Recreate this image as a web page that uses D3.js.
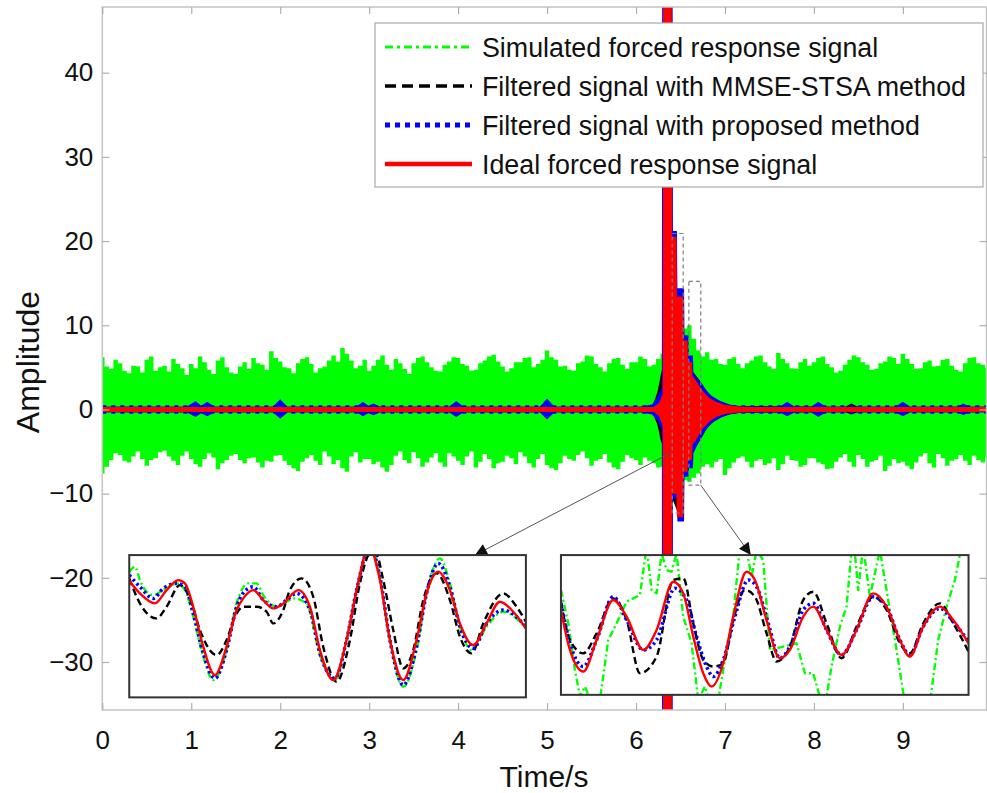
<!DOCTYPE html>
<html>
<head>
<meta charset="utf-8">
<script src="https://cdn.jsdelivr.net/npm/d3@7"></script>
<style>
  html, body { margin: 0; padding: 0; background: #fff; }
  svg { display: block; }
  text { font-family: "Liberation Sans", Arial, sans-serif; fill: #111; }
</style>
</head>
<body>
<svg id="chart" width="987" height="793"></svg>
<script>
// ---------------- data ----------------
const xTickValues = [0, 1, 2, 3, 4, 5, 6, 7, 8, 9];
const yTickValues = [-30, -20, -10, 0, 10, 20, 30, 40];

const seriesNames = [
  "Simulated forced response signal",
  "Filtered signal with MMSE-STSA method",
  "Filtered signal with proposed method",
  "Ideal forced response signal"
];

// noisy simulated signal: upper / lower envelope, one value every 0.05 s
const sampleStep = 0.05;
const greenUpper = [
  6.2, 5.1, 4.8, 5.9, 5.5, 4.6, 4.3, 5.2, 5.1, 4.4, 5.9, 6.3, 4.6, 5.0, 5.2, 4.5, 6.0, 5.4, 4.9, 4.1,
  5.4, 4.9, 6.3, 5.6, 4.7, 4.2, 5.8, 6.2, 5.0, 4.4, 4.2, 5.1, 5.6, 4.8, 6.1, 5.5, 5.3, 4.7, 6.9, 6.1,
  5.7, 5.0, 4.9, 4.3, 5.5, 6.0, 6.2, 5.4, 4.4, 4.9, 5.1, 5.8, 6.4, 5.7, 7.3, 6.6, 5.8, 4.9, 5.2, 5.9,
  4.6, 5.2, 5.9, 6.4, 5.3, 4.7, 6.0, 5.5, 4.8, 4.2, 5.5, 6.1, 6.3, 5.6, 5.0, 4.6, 4.5, 5.3, 5.7, 6.2,
  6.1, 5.4, 5.2, 4.6, 4.7, 5.5, 5.8, 6.3, 6.5, 5.7, 5.1, 4.5, 4.9, 5.6, 5.6, 6.1, 6.2, 5.0, 5.4, 5.9,
  7.0, 6.2, 5.9, 5.1, 5.2, 4.7, 4.6, 5.5, 5.7, 6.4, 6.3, 5.4, 5.0, 4.5, 5.5, 6.0, 6.1, 5.3, 4.8, 5.6,
  5.6, 6.3, 6.0, 5.1, 5.3, 6.0, 6.6, 7.0, 7.5, 7.8, 9.2, 9.6, 10.0, 8.4, 7.0, 6.3, 6.8, 5.9, 6.0, 5.4,
  5.3, 6.0, 6.2, 5.4, 4.9, 5.5, 5.8, 6.3, 6.4, 5.6, 5.1, 4.8, 6.7, 6.0, 5.5, 4.9, 4.8, 5.6, 6.0, 5.2,
  5.6, 6.1, 6.3, 5.4, 5.0, 4.4, 4.6, 5.3, 5.9, 6.4, 6.2, 5.6, 5.3, 4.7, 4.8, 5.5, 5.7, 6.3, 6.1, 5.4,
  6.6, 6.0, 5.4, 4.8, 4.9, 5.6, 5.8, 5.1, 5.2, 5.9, 6.0, 5.2, 4.7, 4.5, 5.5, 6.1, 6.2, 5.5, 5.3, 4.9
];
const greenLower = [
  -7.6, -6.8, -6.0, -5.2, -5.4, -6.1, -6.3, -5.6, -5.0, -5.9, -6.7, -6.0, -5.8, -5.1, -4.9, -5.6, -6.1, -6.6, -5.5, -5.0,
  -5.9, -6.5, -6.8, -5.9, -5.2, -5.7, -7.1, -6.4, -6.0, -5.5, -5.3, -6.0, -6.4, -5.8, -5.7, -6.3, -6.9, -6.1, -6.2, -5.5,
  -5.4, -6.1, -6.6, -7.0, -7.3, -6.2, -5.8, -5.4, -6.1, -6.6, -5.0, -5.6, -6.5, -6.0, -7.0, -7.4, -5.6, -5.1, -6.3, -5.9,
  -5.9, -6.5, -6.2, -6.9, -7.4, -6.6, -5.5, -5.0, -6.0, -6.4, -5.1, -5.8, -6.8, -6.3, -5.7, -5.2, -6.3, -6.8, -5.2, -5.6,
  -6.1, -6.6, -5.6, -5.0, -6.9, -6.2, -5.3, -5.9, -7.0, -6.4, -6.2, -5.5, -5.8, -6.5, -5.1, -5.6, -6.4, -6.9, -5.9, -5.3,
  -6.6, -7.0, -7.2, -6.4, -5.5, -5.9, -6.1, -5.4, -5.0, -5.8, -6.7, -6.1, -5.9, -5.3, -6.3, -6.9, -7.1, -6.2, -5.4, -5.8,
  -6.0, -6.6, -5.7, -6.1, -6.4, -6.9, -6.8, -7.3, -7.5, -7.8, -8.0, -8.4, -8.6, -8.1, -7.6, -6.8, -6.5, -6.9, -6.2, -5.9,
  -7.8, -7.0, -6.3, -5.8, -5.6, -6.2, -6.9, -6.1, -5.9, -6.6, -6.4, -5.8, -7.2, -6.5, -5.5, -6.0, -6.1, -6.8, -6.6, -5.8,
  -5.8, -6.3, -6.5, -7.1, -7.0, -6.2, -5.7, -5.3, -6.2, -6.8, -5.4, -5.9, -6.8, -6.2, -6.0, -5.5, -7.3, -6.7, -5.9, -6.4,
  -6.2, -6.7, -7.1, -6.3, -5.6, -5.2, -6.4, -6.9, -5.3, -5.8, -6.7, -6.1, -5.9, -5.4, -6.1, -6.6, -5.5, -6.0, -6.3, -5.7
];

// filtered / ideal signals: [time, upper, lower] envelope breakpoints
const blackEnvelope = [
  [0, 0.3, -0.3], [6.18, 0.3, -0.3], [6.24, 2.0, -1.8], [6.28, 4.2, -3.8],
  [6.30, 5.0, -4.2], [6.305, 60, -60], [6.40, 60, -60],
  [6.405, 19.5, -10.5], [6.46, 12.8, -12.0], [6.53, 12.8, -12.0],
  [6.535, 7.6, -7.8], [6.60, 5.0, -5.8], [6.66, 4.2, -4.6], [6.72, 3.4, -3.7],
  [6.80, 2.1, -2.2], [6.88, 1.3, -1.4], [6.98, 0.75, -0.8], [7.10, 0.4, -0.4],
  [8.35, 0.3, -0.3], [8.42, 0.7, -0.6], [8.50, 0.3, -0.3], [9.94, 0.3, -0.3]
];
const blueEnvelope = [
  [0.00, 0.35, -0.35],
  [0.95, 0.35, -0.35], [1.05, 1.0, -0.9], [1.11, 0.45, -0.45], [1.18, 0.9, -0.8], [1.26, 0.35, -0.35],
  [1.92, 0.35, -0.35], [2.00, 1.2, -1.1], [2.08, 0.35, -0.35],
  [2.86, 0.35, -0.35], [2.93, 0.9, -0.8], [2.99, 0.45, -0.45], [3.05, 0.7, -0.7], [3.12, 0.35, -0.35],
  [3.90, 0.35, -0.35], [3.98, 1.0, -0.9], [4.06, 0.35, -0.35],
  [4.92, 0.35, -0.35], [5.00, 1.3, -1.2], [5.08, 0.35, -0.35],
  [6.05, 0.35, -0.35], [6.18, 0.6, -0.6], [6.24, 1.5, -1.3], [6.29, 2.6, -2.4],
  [6.295, 60, -60], [6.41, 60, -60], [6.415, 21.2, -10.6], [6.46, 21.2, -10.6],
  [6.465, 14.4, -13.3], [6.54, 14.4, -13.3], [6.545, 8.8, -8.0], [6.59, 8.8, -8.0],
  [6.595, 6.4, -7.0], [6.64, 6.4, -7.0], [6.645, 4.3, -5.2], [6.72, 3.3, -3.6],
  [6.78, 2.4, -2.5], [6.85, 1.6, -1.6], [6.95, 1.0, -1.0], [7.05, 0.6, -0.6], [7.20, 0.35, -0.35],
  [7.62, 0.35, -0.35], [7.70, 0.9, -0.8], [7.78, 0.35, -0.35],
  [7.97, 0.35, -0.35], [8.05, 0.9, -0.9], [8.13, 0.35, -0.35],
  [8.92, 0.35, -0.35], [9.00, 0.9, -0.8], [9.08, 0.35, -0.35],
  [9.62, 0.35, -0.35], [9.68, 0.7, -0.7], [9.74, 0.35, -0.35],
  [9.94, 0.35, -0.35]
];
const redEnvelope = [
  [0, 0.3, -0.3], [6.20, 0.3, -0.3], [6.26, 0.8, -0.8], [6.30, 1.8, -2.0],
  [6.305, 60, -60], [6.40, 60, -60], [6.405, 20.5, -10.0], [6.455, 20.5, -10.0],
  [6.46, 13.4, -12.8], [6.53, 13.4, -12.8], [6.535, 8.2, -7.4], [6.58, 8.2, -7.4],
  [6.585, 5.6, -6.0], [6.63, 5.6, -6.0], [6.635, 4.0, -4.2], [6.70, 3.0, -3.2],
  [6.75, 2.2, -2.3], [6.82, 1.4, -1.5], [6.90, 0.9, -0.9], [7.00, 0.55, -0.55],
  [7.15, 0.35, -0.35], [7.30, 0.3, -0.3], [9.94, 0.3, -0.3]
];

// zoomed windows: [t0, t1, amplitude low, amplitude high]
const zoomWindows = [
  [6.407, 6.530, -12.3, 20.9],
  [6.594, 6.728, -9.0, 15.2]
];

// inset 1 traces: [sample, amplitude]
const inset1Green = [
  [0,16.3],[1.7,17.8],[3.2,13.8],[5.2,10.3],[7.2,9.3],[10.2,10.8],[14.2,12.8],[16.7,10.8],
  [19.2,2.8],[22.2,-9.2],[25.2,-16.2],[29.2,-7.2],[32.2,6.8],[35.7,12.8],[38.2,12.8],[40.2,9.3],
  [44.2,5.8],[47.2,7.3],[49.2,8.3],[53.2,6.8],[57.2,-8.7],[61.7,-16.2],[65.2,-4.2],[68.2,10.8],
  [72.2,23.8],[75.2,14.8],[78.2,-4.2],[82.2,-18.2],[86.2,-7.2],[89.2,9.8],[93.2,20.3],[96.2,12.8],
  [99.2,-0.2],[102.7,-7.2],[107.2,-0.2],[112.2,4.3],[119,-0.7]
];
const inset1Black = [
  [0,14.3],[3.2,6.8],[8.2,2.3],[11.2,5.8],[15.2,12.3],[18.2,8.3],[21.2,-1.2],[26.2,-8.7],
  [29.2,-4.2],[31.7,2.8],[34.2,5.8],[38.2,5.8],[41.2,4.3],[43.2,0.8],[46.2,4.8],[48.2,10.8],
  [51.7,14.3],[55.2,8.8],[58.2,-6.2],[62.2,-16.7],[66.2,-4.2],[69.2,12.8],[72.4,21.8],[74.2,21.3],
  [76.2,13.8],[79.2,-1.2],[82.2,-12.7],[85.2,-7.2],[88.2,7.8],[92.2,15.8],[96.2,7.8],[99.2,-3.2],
  [102.7,-8.2],[106.2,0.8],[112.2,9.8],[116.2,5.8],[119,1.3]
];
const inset1Blue = [
  [0,15.3],[3.2,11.8],[7.2,8.3],[10.2,11.3],[14.2,12.8],[16.7,11.8],[19.2,3.8],[22.2,-8.2],
  [25.7,-15.7],[29.2,-7.2],[32.2,5.8],[35.7,11.3],[37.2,11.8],[40.2,7.8],[44.2,5.8],[47.2,7.8],
  [50.2,9.8],[54.2,4.8],[57.2,-8.2],[61.7,-15.7],[65.2,-4.2],[68.2,10.8],[72.2,23.8],[75.2,14.8],
  [78.2,-4.2],[82.2,-17.7],[86.2,-6.2],[89.2,9.8],[92.7,18.8],[96.2,11.8],[99.2,-0.2],[103.2,-6.7],
  [107.2,0.8],[112.2,4.8],[119,-0.2]
];
const inset1Red = [
  [0,13.6],[3.2,9.8],[7.7,6.8],[11.2,10.8],[14.7,13.8],[16.7,12.8],[19.2,5.8],[22.2,-6.2],
  [25.7,-14.7],[29.2,-6.2],[32.2,4.8],[34.2,8.3],[37.2,10.8],[40.2,7.8],[43.2,5.3],[46.2,6.8],
  [50.7,10.8],[54.2,5.8],[57.2,-7.2],[61.2,-16.2],[65.2,-4.2],[68.2,10.8],[72,23.8],[75.2,13.8],
  [78.2,-4.2],[82.2,-16.2],[86.2,-4.2],[89.2,9.8],[92.7,16.3],[96.2,10.8],[99.2,0.8],[103.2,-5.7],
  [107.2,0.8],[111.2,7.3],[115.2,4.3],[119,-0.7]
];

// inset 2 traces: [sample, amplitude]
const inset2Green = [
  [0,10.5],[2.2,0.5],[4.2,-13.5],[5.7,-21.5],[7.2,-18.5],[9.2,-23.5],[11.7,-22.5],[14.2,-4.5],
  [16.7,0.5],[19.7,7],[23.7,9],[25.7,23.5],[27.2,10.5],[28.7,9.5],[30.2,21.5],[31.7,16.5],
  [33.2,16],[34.7,21.5],[36.7,2.5],[39.2,-5.5],[41.2,-22.5],[43.2,-18.5],[44.7,-23.5],[47.2,-22.5],
  [49.2,-10.5],[51.7,2.5],[53.7,23.5],[55.7,22.5],[57.2,14.5],[58.7,22.5],[60.7,19.5],[62.7,-7.5],
  [66.7,-6.5],[70.7,-5.5],[73.2,-14.5],[75.7,-14.5],[78.2,-23.5],[79.7,-21.5],[81.2,-12.5],[83.7,-0.5],
  [85.7,5.5],[87.2,22.5],[88.2,21.5],[89.2,10.5],[90.7,23.5],[92.7,8.5],[95.7,22.5],[97.7,10.5],
  [100.7,-7.5],[103.2,-23.5],[106.7,-22.5],[110.7,-23.5],[113.2,-4.5],[115.7,5.5],[118.2,13.5],
  [120.2,23.5],[122.3,22.5]
];
const inset2Black = [
  [0,7],[2.7,-4.5],[6.7,-8.5],[10.7,-2.5],[15.7,8],[19.7,1.5],[23.7,-14.5],[28.7,-9.5],
  [33.7,13.5],[36.7,14],[39.7,0.5],[42.7,-10.5],[45.7,-12.5],[48.7,-11.5],[51.7,1.5],[55.2,10.5],
  [58.2,8.5],[61.7,-2.5],[64.7,-11],[68.7,-6.5],[72.7,7.5],[75.7,10],[79.7,0.5],[84.2,-10],
  [88.7,-0.5],[93.7,8.5],[97.7,4.5],[101.7,-5.5],[104.7,-8.5],[108.7,0.5],[113.7,6.5],[117.7,0.5],
  [122.3,-8]
];
const inset2Blue = [
  [0,6.5],[2.7,-5.5],[6.7,-12.5],[10.7,-4.5],[15.7,8.5],[19.7,1.5],[24.7,-7.5],[28.7,-4.5],
  [34.2,11],[37.7,7.5],[40.7,-3.5],[43.7,-12.5],[45.7,-15.5],[48.7,-10.5],[52.2,2.5],[56.2,13.5],
  [58.7,11.5],[62.2,0.5],[65.7,-10],[68.7,-6.5],[72.7,4.5],[75.7,6.5],[79.7,-1.5],[84.2,-9],
  [88.7,-1.5],[93.7,8.5],[97.7,5.5],[101.7,-4.5],[104.7,-9],[108.7,-0.5],[113.7,5],[117.7,1],
  [122.3,-5]
];
const inset2Red = [
  [0,4.5],[2.7,-7.5],[6.7,-14],[10.7,-4.5],[15.7,7.5],[19.7,2.5],[24.7,-7.5],[28.7,-1.5],
  [33.7,13],[36.7,9.5],[39.7,-3.5],[42.7,-14.5],[45.2,-18.5],[48.7,-11.5],[51.7,2.5],[55.7,16],
  [58.2,13.5],[61.7,1.5],[65.7,-10],[68.7,-7.5],[72.7,2.5],[75.7,5.5],[79.7,-1.5],[84.2,-9],
  [88.7,-1.5],[93.7,9.5],[97.7,5.5],[101.7,-4.5],[104.7,-9.5],[108.7,-0.5],[113.7,5.5],[117.7,1.5],
  [122.3,-5.5]
];

// ---------------- layout ----------------
const svg = d3.select("#chart");
const plot = { left: 102.3, right: 986.5, top: 7, bottom: 710 };

const x = d3.scaleLinear().domain([0, 9.94]).range([plot.left, plot.right]);
const y = d3.scaleLinear().domain([-35.7, 47.8]).range([plot.bottom, plot.top]);

const colors = { green: "#00ff00", black: "#000000", blue: "#0000ff", red: "#ff0000" };
const styles = [
  { color: colors.green, dash: "8,4,3,4", width: 3 },
  { color: colors.black, dash: "11,6", width: 3.5 },
  { color: colors.blue, dash: "5,5", width: 5 },
  { color: colors.red, dash: null, width: 4.5 }
];

const defs = svg.append("defs");
defs.append("clipPath").attr("id", "plotClip")
  .append("rect")
  .attr("x", plot.left).attr("y", plot.top)
  .attr("width", plot.right - plot.left).attr("height", plot.bottom - plot.top);

defs.append("marker")
  .attr("id", "arrowHead")
  .attr("viewBox", "0 0 10 10")
  .attr("refX", 10).attr("refY", 5)
  .attr("markerWidth", 19).attr("markerHeight", 12)
  .attr("markerUnits", "userSpaceOnUse")
  .attr("orient", "auto")
  .append("path").attr("d", "M0,0 L10,5 L0,10 Z").attr("fill", "#111");

// ---------------- signals ----------------
const signals = svg.append("g").attr("clip-path", "url(#plotClip)");

const greenRows = greenUpper.map((u, i) => [i * sampleStep, u, greenLower[i]]);
greenRows.push([x.domain()[1], greenUpper[greenUpper.length - 1], greenLower[greenLower.length - 1]]);

const bandStep = d3.area().x(d => x(d[0])).y0(d => y(d[2])).y1(d => y(d[1])).curve(d3.curveStep);
const band = d3.area().x(d => x(d[0])).y0(d => y(d[2])).y1(d => y(d[1])).curve(d3.curveLinear);

signals.append("path").datum(greenRows).attr("d", bandStep).attr("fill", colors.green);
signals.append("path").datum(blackEnvelope).attr("d", band).attr("fill", colors.black);
signals.append("path").datum(blueEnvelope).attr("d", band).attr("fill", colors.blue);
// dotted blue trace along the baseline, visible above and below the red one
signals.append("line")
  .attr("x1", x(0)).attr("x2", x(x.domain()[1]))
  .attr("y1", y(0)).attr("y2", y(0))
  .attr("stroke", colors.blue).attr("stroke-width", 8.5)
  .attr("stroke-dasharray", "4,5");
signals.append("path").datum(redEnvelope).attr("d", band).attr("fill", colors.red);

// dashed boxes marking the zoomed windows
signals.selectAll("rect.window").data(zoomWindows).join("rect")
  .attr("class", "window")
  .attr("x", d => x(d[0])).attr("y", d => y(d[3]))
  .attr("width", d => x(d[1]) - x(d[0])).attr("height", d => y(d[2]) - y(d[3]))
  .attr("fill", "none").attr("stroke", "#808080")
  .attr("stroke-width", 1.2).attr("stroke-dasharray", "4,3");

// ---------------- frame and axes ----------------
svg.append("rect")
  .attr("x", plot.left).attr("y", plot.top)
  .attr("width", plot.right - plot.left).attr("height", plot.bottom - plot.top)
  .attr("fill", "none").attr("stroke", "#c4c4c4").attr("stroke-width", 1.5);

const tickLen = 7;
const axisFont = 26;

const xAxis = svg.append("g").attr("transform", `translate(0,${plot.bottom})`)
  .call(d3.axisBottom(x).tickValues(xTickValues).tickFormat(d3.format("d"))
    .tickSizeInner(-tickLen).tickSizeOuter(0).tickPadding(21));
const xAxisTop = svg.append("g").attr("transform", `translate(0,${plot.top})`)
  .call(d3.axisTop(x).tickValues(xTickValues).tickFormat("")
    .tickSizeInner(-tickLen).tickSizeOuter(0));
const yAxis = svg.append("g").attr("transform", `translate(${plot.left},0)`)
  .call(d3.axisLeft(y).tickValues(yTickValues).tickFormat(d3.format("d"))
    .tickSizeInner(-tickLen).tickSizeOuter(0).tickPadding(9));
const yAxisRight = svg.append("g").attr("transform", `translate(${plot.right},0)`)
  .call(d3.axisRight(y).tickValues(yTickValues).tickFormat("")
    .tickSizeInner(-tickLen).tickSizeOuter(0));

[xAxis, xAxisTop, yAxis, yAxisRight].forEach(g => {
  g.select(".domain").remove();
  g.selectAll(".tick line").attr("stroke", "#b0b0b0").attr("stroke-width", 1.2);
  g.selectAll(".tick text")
    .attr("font-size", axisFont)
    .attr("font-family", '"Liberation Sans", Arial, sans-serif')
    .attr("fill", "#111");
});

svg.append("text")
  .attr("x", 544).attr("y", 787)
  .attr("text-anchor", "middle")
  .attr("font-size", 30)
  .text("Time/s");

svg.append("text")
  .attr("transform", "translate(39,362) rotate(-90)")
  .attr("text-anchor", "middle")
  .attr("font-size", 32)
  .text("Amplitude");

// ---------------- arrows to the insets ----------------
const arrows = [
  { from: [6.40, -5.1], to: [4.19, -17.3] },
  { from: [6.728, -9.0], to: [7.29, -17.3] }
];
svg.selectAll("line.arrow").data(arrows).join("line")
  .attr("class", "arrow")
  .attr("x1", d => x(d.from[0])).attr("y1", d => y(d.from[1]))
  .attr("x2", d => x(d.to[0])).attr("y2", d => y(d.to[1]))
  .attr("stroke", "#555").attr("stroke-width", 1)
  .attr("marker-end", "url(#arrowHead)");

// ---------------- insets ----------------
const insets = [
  { t: [0.303, 4.762], a: [-34.2, -17.3], xd: [0, 119], yd: [-21.4, 21.3],
    traces: [inset1Green, inset1Black, inset1Blue, inset1Red], greenCurve: d3.curveMonotoneX, id: "inset1" },
  { t: [5.156, 9.738], a: [-33.9, -17.3], xd: [0, 122.3], yd: [-21, 21],
    traces: [inset2Green, inset2Black, inset2Blue, inset2Red], greenCurve: d3.curveLinear, id: "inset2" }
];

const insetStyles = [
  { color: colors.green, dash: "7,3,2,3", width: 2.4 },
  { color: colors.black, dash: "7,4", width: 2.4 },
  { color: colors.blue, dash: "2.5,3", width: 3.5 },
  { color: colors.red, dash: null, width: 2.4 }
];

insets.forEach(ins => {
  const x0 = x(ins.t[0]), x1 = x(ins.t[1]);
  const y0 = y(ins.a[1]), y1 = y(ins.a[0]);
  const ix = d3.scaleLinear().domain(ins.xd).range([x0, x1]);
  const iy = d3.scaleLinear().domain(ins.yd).range([y1, y0]);
  const g = svg.append("g");
  g.append("rect").attr("x", x0).attr("y", y0).attr("width", x1 - x0).attr("height", y1 - y0)
    .attr("fill", "#fff");
  defs.append("clipPath").attr("id", ins.id + "Clip")
    .append("rect").attr("x", x0).attr("y", y0).attr("width", x1 - x0).attr("height", y1 - y0);
  const inner = g.append("g").attr("clip-path", `url(#${ins.id}Clip)`);
  ins.traces.forEach((tr, k) => {
    const st = insetStyles[k];
    const line = d3.line().x(d => ix(d[0])).y(d => iy(d[1]))
      .curve(k === 0 ? ins.greenCurve : d3.curveMonotoneX);
    inner.append("path").datum(tr).attr("d", line)
      .attr("fill", "none").attr("stroke", st.color)
      .attr("stroke-width", st.width)
      .attr("stroke-dasharray", st.dash)
      .attr("stroke-linejoin", "round");
  });
  g.append("rect").attr("x", x0).attr("y", y0).attr("width", x1 - x0).attr("height", y1 - y0)
    .attr("fill", "none").attr("stroke", "#333").attr("stroke-width", 2);
});

// ---------------- legend ----------------
const legend = svg.append("g");
legend.append("rect")
  .attr("x", 375).attr("y", 23).attr("width", 608).attr("height", 164)
  .attr("fill", "#fff").attr("stroke", "#aaa").attr("stroke-width", 1.2);
const rowY = [47, 86, 125, 164];
seriesNames.forEach((name, i) => {
  const st = styles[i];
  legend.append("line")
    .attr("x1", 385).attr("x2", 472).attr("y1", rowY[i]).attr("y2", rowY[i])
    .attr("stroke", st.color).attr("stroke-width", st.width)
    .attr("stroke-dasharray", st.dash);
  legend.append("text")
    .attr("x", 482).attr("y", rowY[i] + 9.5)
    .attr("font-size", 26.8)
    .text(name);
});
</script>
</body>
</html>
